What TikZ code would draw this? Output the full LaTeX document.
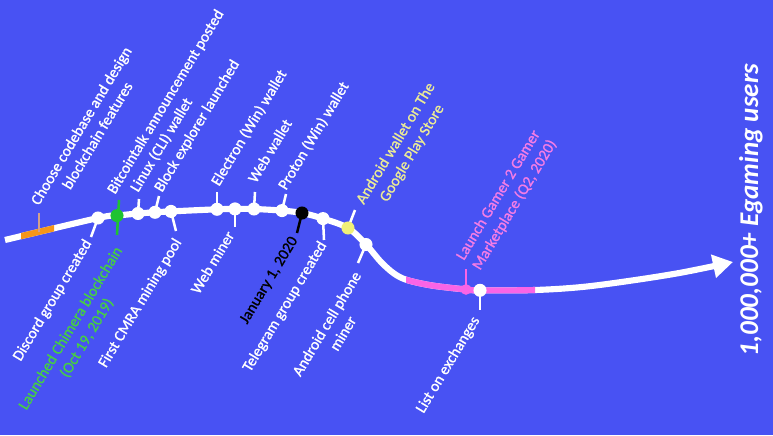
\documentclass[tikz,border=0pt]{standalone}
\usepackage{fontspec}
\setmainfont{Carlito}
\newfontfamily\lblfont{Carlito}[FakeBold=1.1]
\usetikzlibrary{arrows.meta}
\definecolor{bgblue}{RGB}{72,82,243}
\definecolor{gline}{RGB}{30,195,50}
\definecolor{gtext}{RGB}{70,205,70}
\definecolor{ydot}{RGB}{240,240,120}
\definecolor{ytext}{RGB}{235,235,150}
\definecolor{pline}{RGB}{250,100,230}
\definecolor{ptext}{RGB}{245,125,230}
\definecolor{oline}{RGB}{245,150,25}
\definecolor{tan}{RGB}{210,160,140}
\begin{document}
\begin{tikzpicture}[x=0.75pt,y=-0.75pt,
  lbl/.style={rotate=59, inner sep=0pt, text=white, align=center,
    font=\lblfont\fontsize{11.6}{14.2}\selectfont},
  up/.style={lbl, anchor=base west},
  down/.style={lbl, anchor=base east},
  dot/.style={circle, fill=white, minimum size=9.8pt, inner sep=0pt},
  tick/.style={white, line width=1.9pt},
  curve/.style={insert path={plot[smooth,tension=0.55] coordinates{
    (s) (c1) (g) (c2) (c3) (c4) (c5) (c6) (c7) (c8) (k) (c9) (yl) (c10)
    (381,262) (394,273.5) (407,280) (432,285.5) (p) (c11)
    (535,290) (582,287) (632,280.5) (682,272.5) (e)}}}]
\useasboundingbox (0,0) rectangle (773,435);
\fill[bgblue] (0,0) rectangle (773,435);
% points on the timeline
\coordinate (s) at (5,240);
\coordinate (c1) at (98,218);
\coordinate (g) at (117,215.6);
\coordinate (c2) at (138,213.5);
\coordinate (c3) at (155,212.3);
\coordinate (c4) at (171,211.4);
\coordinate (c5) at (217,209.3);
\coordinate (c6) at (235,208.9);
\coordinate (c7) at (254,209);
\coordinate (c8) at (282,210.6);
\coordinate (k) at (302,213);
\coordinate (c9) at (323,218.6);
\coordinate (yl) at (348,228);
\coordinate (c10) at (366,244.5);
\coordinate (p) at (466,289.5);
\coordinate (c11) at (480,290.3);
\coordinate (e) at (733,262);
% tick ends
\coordinate (o1) at (39,232.3);
\coordinate (o2) at (39,213);
\coordinate (t1) at (91,237);
\coordinate (gt) at (119,200);
\coordinate (gb) at (117,235);
\coordinate (t2) at (139,199);
\coordinate (t3) at (159,196);
\coordinate (t4) at (176,231);
\coordinate (t5) at (217,192);
\coordinate (t6) at (235,227);
\coordinate (t7) at (255,192);
\coordinate (t8) at (286,194);
\coordinate (tk) at (297,233);
\coordinate (t9) at (324,240);
\coordinate (ty) at (355,210);
\coordinate (t10) at (358,263);
\coordinate (tp) at (466,269);
\coordinate (t11) at (480,310);
% main line
\draw[white, line width=4.6pt, curve, -{Triangle[length=15pt,width=17pt]}];
\begin{scope}
  \clip (21,0) rectangle (54,435);
  \draw[oline, line width=4.6pt, curve];
\end{scope}
\begin{scope}
  \clip (406,0) rectangle (535,435);
  \draw[pline, line width=4.6pt, curve];
\end{scope}
% ticks
\draw[tan, line width=1.6pt] (o1) -- (o2);
\draw[tick] (c1) -- (t1);
\draw[gline, line width=1.9pt] (gt) -- (gb);
\draw[tick] (c2) -- (t2);
\draw[tick] (c3) -- (t3);
\draw[tick] (c4) -- (t4);
\draw[tick] (c5) -- (t5);
\draw[tick] (c6) -- (t6);
\draw[tick] (c7) -- (t7);
\draw[tick] (c8) -- (t8);
\draw[black, line width=1.9pt] (k) -- (tk);
\draw[tick] (c9) -- (t9);
\draw[tick] (yl) -- (ty);
\draw[tick] (c10) -- (t10);
\draw[pline, line width=1.6pt] (p) -- (tp);
\draw[tick] (c11) -- (t11);
% dots
\node[dot] (n1) at (c1) {};
\node[dot, fill=gline] (ng) at (g) {};
\node[dot] (n2) at (c2) {};
\node[dot] (n3) at (c3) {};
\node[dot] (n4) at (c4) {};
\node[dot] (n5) at (c5) {};
\node[dot] (n6) at (c6) {};
\node[dot] (n7) at (c7) {};
\node[dot] (n8) at (c8) {};
\node[dot, fill=black] (nk) at (k) {};
\node[dot] (n9) at (c9) {};
\node[dot, fill=ydot] (ny) at (yl) {};
\node[dot] (n10) at (c10) {};
\node[dot, fill=pline, minimum size=8pt] (np) at (p) {};
\node[dot] (n11) at (c11) {};
% labels above
\node[up] (la1) at (55,216) {Choose codebase and design\\blockchain features};
\node[up] (la2) at (115,195) {Bitcointalk announcement posted};
\node[up] (la3) at (138,193) {Linux (CLI) wallet};
\node[up] (la4) at (162,193) {Block explorer launched};
\node[up] (la5) at (219,187) {Electron (Win) wallet};
\node[up] (la6) at (256,184) {Web wallet};
\node[up] (la7) at (286,191) {Proton (Win) wallet};
\node[up, text=ytext] (la8) at (380,215) {Android wallet on The\\Google Play Store};
\node[up, text=ptext] (la9) at (480,271) {Launch Gamer 2 Gamer\\Marketplace (Q2, 2020)};
% labels below
\node[down] (lb1) at (92,243) {Discord group created};
\node[down, text=gtext] (lb2) at (139,260) {Launched Chimera blockchain\\(Oct 19, 2019)};
\node[down] (lb3) at (182,242) {First CMRA mining pool};
\node[down] (lb4) at (235,235) {Web miner};
\node[down, text=black] (lb5) at (298,240) {January 1, 2020};
\node[down] (lb6) at (327,245) {Telegram group created};
\node[down] (lb7) at (378,285) {Android cell phone\\miner};
\node[down] (lb8) at (480,320) {List on exchanges};
% goal
\node[rotate=90, text=white, inner sep=0pt,
  font=\fontsize{20.3}{24}\selectfont\bfseries\itshape] (goal) at (751,210)
  {1,000,000+ Egaming users};
\end{tikzpicture}
\end{document}
